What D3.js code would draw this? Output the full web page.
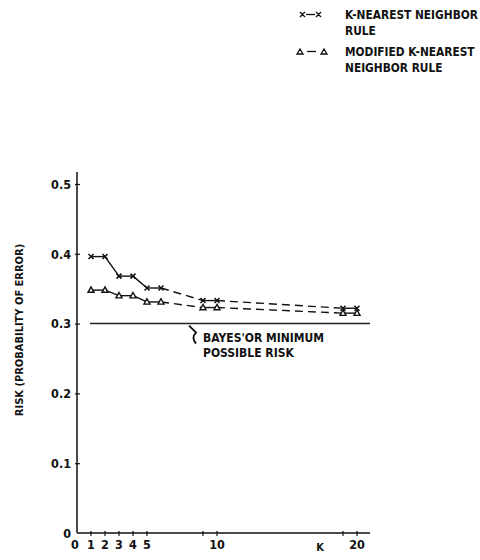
<!DOCTYPE html>
<html>
<head>
<meta charset="utf-8">
<script src="https://cdn.jsdelivr.net/npm/d3@7"></script>
<style>
  body { margin: 0; background: #fff; }
  svg text { font-family: "DejaVu Sans Condensed", "Liberation Sans Narrow", sans-serif; font-weight: bold; fill: #111; }
</style>
</head>
<body>
<svg id="chart" width="480" height="560"></svg>
<script>
// values
const kValues = [1, 2, 3, 4, 5, 6, 9, 10, 19, 20];
const knnRisk = [0.396, 0.396, 0.368, 0.368, 0.351, 0.351, 0.333, 0.333, 0.322, 0.322];
const modRisk = [0.348, 0.348, 0.340, 0.340, 0.331, 0.331, 0.323, 0.323, 0.315, 0.315];
const bayesRisk = 0.3;
const yTicks = [0, 0.1, 0.2, 0.3, 0.4, 0.5];
const yTickLabels = ["0", "0.1", "0.2", "0.3", "0.4", "0.5"];
const xTickMarks = [1, 2, 3, 4, 5, 9, 10, 19, 20];
const xTickLabels = [0, 1, 2, 3, 4, 5, 10, 20];

const svg = d3.select('#chart');
const x = d3.scaleLinear().domain([0, 20]).range([77, 357]);
const y = d3.scaleLinear().domain([0, 0.5]).range([533, 184]);

// axes like the scan (ticks cross the line)
svg.append('line').attr('x1', x(0)).attr('x2', x(0)).attr('y1', 172).attr('y2', y(0))
   .attr('stroke', '#111').attr('stroke-width', 1.5);
svg.append('line').attr('x1', x(0)).attr('x2', 370).attr('y1', y(0)).attr('y2', y(0))
   .attr('stroke', '#111').attr('stroke-width', 1.5);

const yAxis = d3.axisLeft(y).tickValues(yTicks).tickSize(0)
   .tickFormat((d, i) => yTickLabels[i]).tickPadding(6);
const gy = svg.append('g').attr('transform', `translate(${x(0)},0)`).call(yAxis);
gy.select('.domain').remove();
gy.selectAll('text').attr('font-size', 12.5).attr('dy', '0.35em');
gy.selectAll('.tick').filter(d => d > 0).append('line')
   .attr('x1', -2).attr('x2', 3).attr('stroke', '#111').attr('stroke-width', 1.2);

svg.append('g').selectAll('line').data(xTickMarks).join('line')
   .attr('x1', d => x(d)).attr('x2', d => x(d))
   .attr('y1', y(0) - 2).attr('y2', y(0) + 3)
   .attr('stroke', '#111').attr('stroke-width', 1.2);
svg.append('g').selectAll('text').data(xTickLabels).join('text')
   .attr('x', d => d === 0 ? x(d) - 2 : x(d)).attr('y', y(0) + 16)
   .attr('text-anchor', 'middle').attr('font-size', 12.5)
   .text(d => d);

svg.append('text').attr('x', 320).attr('y', 551).attr('text-anchor', 'middle')
   .attr('font-size', 11).text('K');

svg.append('text').attr('transform', 'translate(23,330) rotate(-90)')
   .attr('text-anchor', 'middle').attr('font-size', 11)
   .text('RISK (PROBABILITY OF ERROR)');

// Bayes line
svg.append('line').attr('x1', 90).attr('x2', 370).attr('y1', y(bayesRisk)).attr('y2', y(bayesRisk))
   .attr('stroke', '#222').attr('stroke-width', 1.5);
svg.append('path')
   .attr('d', `M189,${y(bayesRisk) + 2} L196,${y(bayesRisk) + 9} Q191,${y(bayesRisk) + 14} 196,${y(bayesRisk) + 20}`)
   .attr('fill', 'none').attr('stroke', '#111').attr('stroke-width', 1.8);
svg.append('text').attr('x', 203).attr('y', y(bayesRisk) + 18).attr('font-size', 12).text("BAYES'OR MINIMUM");
svg.append('text').attr('x', 203).attr('y', y(bayesRisk) + 33).attr('font-size', 12).text('POSSIBLE RISK');

// curves: solid up to k=6 and within pairs, dashed across gaps
function drawSeries(vals, marker) {
  const pts = kValues.map((k, i) => ({ k: k, v: vals[i] }));
  for (let i = 0; i < pts.length - 1; i++) {
    const a = pts[i], b = pts[i + 1];
    const dashed = b.k - a.k > 1;
    svg.append('line')
       .attr('x1', x(a.k)).attr('y1', y(a.v)).attr('x2', x(b.k)).attr('y2', y(b.v))
       .attr('stroke', '#111').attr('stroke-width', 1.4)
       .attr('stroke-dasharray', dashed ? '8,5' : null);
  }
  const g = svg.append('g');
  pts.forEach(p => {
    const cx = x(p.k), cy = y(p.v);
    if (marker === 'x') {
      g.append('path').attr('d', `M${cx - 2.5},${cy - 2.5}L${cx + 2.5},${cy + 2.5}M${cx - 2.5},${cy + 2.5}L${cx + 2.5},${cy - 2.5}`)
       .attr('stroke', '#111').attr('stroke-width', 1.5);
    } else {
      g.append('path').attr('d', `M${cx},${cy - 3.2}L${cx + 3},${cy + 2.2}L${cx - 3},${cy + 2.2}Z`)
       .attr('fill', '#fff').attr('stroke', '#111').attr('stroke-width', 1.4);
    }
  });
}
drawSeries(knnRisk, 'x');
drawSeries(modRisk, 'tri');

// legend
const lg = svg.append('g');
lg.append('path').attr('d', 'M300,12L305,17M300,17L305,12M316,12L321,17M316,17L321,12')
  .attr('stroke', '#111').attr('stroke-width', 1.3);
lg.append('line').attr('x1', 306).attr('x2', 315).attr('y1', 14.5).attr('y2', 14.5)
  .attr('stroke', '#111').attr('stroke-width', 1.3);
lg.append('path').attr('d', 'M300,49L303,54L297,54Z M324,49L327,54L321,54Z')
  .attr('fill', '#fff').attr('stroke', '#111').attr('stroke-width', 1.3);
lg.append('line').attr('x1', 307).attr('x2', 316).attr('y1', 51.5).attr('y2', 51.5)
  .attr('stroke', '#111').attr('stroke-width', 1.3);
lg.append('text').attr('x', 345).attr('y', 19).attr('font-size', 11.8).text('K-NEAREST NEIGHBOR');
lg.append('text').attr('x', 345).attr('y', 35).attr('font-size', 11.8).text('RULE');
lg.append('text').attr('x', 345).attr('y', 56).attr('font-size', 11.8).text('MODIFIED K-NEAREST');
lg.append('text').attr('x', 345).attr('y', 72).attr('font-size', 11.8).text('NEIGHBOR RULE');
</script>
</body>
</html>
